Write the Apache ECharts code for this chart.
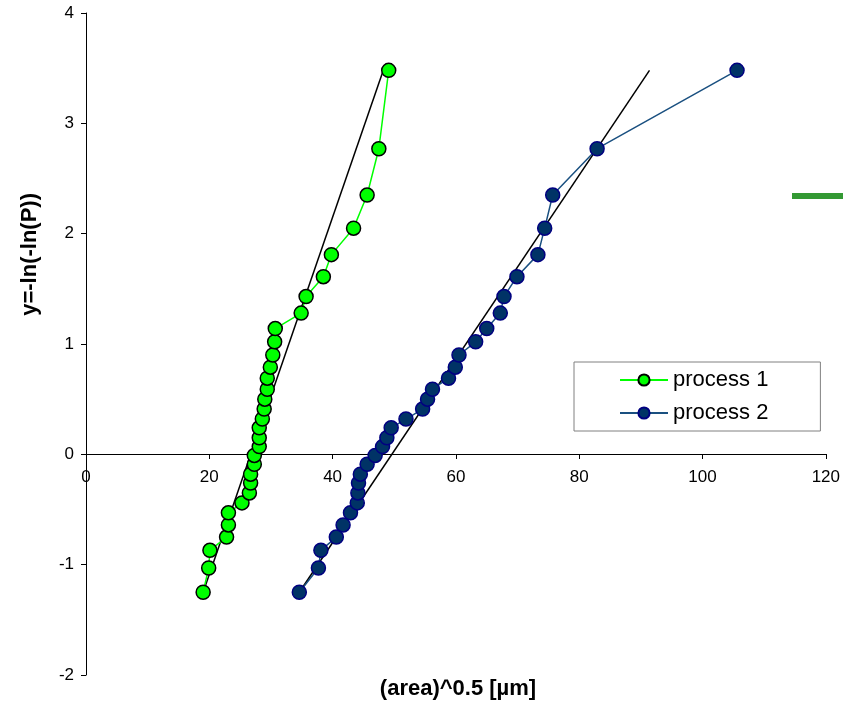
<!DOCTYPE html>
<html>
<head>
<meta charset="utf-8">
<script src="https://cdn.jsdelivr.net/npm/echarts@6/dist/echarts.min.js"></script>
<style>
  html, body { margin: 0; padding: 0; background: #fff; }
  #chart { width: 843px; height: 710px; }
</style>
</head>
<body>
<div id="chart"></div>
<script>
// values (Weibull plot, 32 samples per process)
const yPos = [-1.25, -1.03, -0.87, -0.75, -0.64, -0.53, -0.44, -0.35, -0.26, -0.18, -0.09, -0.01,
  0.07, 0.15, 0.24, 0.32, 0.41, 0.50, 0.59, 0.69, 0.79, 0.90, 1.02, 1.14,
  1.28, 1.43, 1.61, 1.81, 2.05, 2.35, 2.77, 3.48]

const process1X = [19.0, 19.9, 20.1, 22.8, 23.1, 23.1, 25.3, 26.5, 26.7, 26.7, 27.3, 27.3,
  28.1, 28.1, 28.1, 28.6, 28.9, 29.0, 29.4, 29.4, 29.9, 30.3, 30.6, 30.7,
  34.9, 35.7, 38.5, 39.8, 43.4, 45.6, 47.5, 49.1]

const process2X = [34.6, 37.7, 38.1, 40.6, 41.7, 42.9, 44.0, 44.1, 44.2, 44.5, 45.6, 46.9,
  48.1, 48.8, 49.5, 51.9, 54.6, 55.4, 56.2, 58.8, 59.9, 60.5, 63.2, 65.0,
  67.2, 67.8, 69.9, 73.3, 74.4, 75.7, 82.9, 105.6]

// straight fit lines (end points)
const fit1 = [[19.0, -1.25], [48.1, 3.46]]
const fit2 = [[34.6, -1.25], [91.4, 3.48]]

const seriesNames = ['process 1', 'process 2']

const font = 'Liberation Sans, Arial, sans-serif'

const pairs = (xs) => xs.map((x, i) => [x, yPos[i]])

// grid box, so the x axis can sit on y = 0
const gridTop = 13
const gridBottom = 35
const yMin = -2
const yMax = 4
const plotH = 710 - gridTop - gridBottom
const zeroOffset = -Math.round(plotH * (0 - yMin) / (yMax - yMin))

const chart = echarts.init(document.getElementById('chart'))

chart.setOption({
  backgroundColor: '#fff',
  animation: false,
  grid: { left: 86, right: 17, top: gridTop, bottom: gridBottom },
  xAxis: {
    type: 'value',
    min: 0,
    max: 120,
    interval: 20,
    offset: zeroOffset,
    axisLine: { onZero: false, lineStyle: { color: '#000', width: 1 } },
    axisTick: { show: true, length: 5, lineStyle: { color: '#000' } },
    axisLabel: { color: '#000', fontSize: 17, fontFamily: font, margin: 15 },
    splitLine: { show: false },
  },
  yAxis: {
    type: 'value',
    min: yMin,
    max: yMax,
    interval: 1,
    axisLine: { show: true, onZero: false, lineStyle: { color: '#000', width: 1 } },
    axisTick: { show: true, length: 5, lineStyle: { color: '#000' } },
    axisLabel: { color: '#000', fontSize: 17, fontFamily: font, margin: 12 },
    splitLine: { show: false },
  },
  legend: {
    data: seriesNames,
    orient: 'vertical',
    left: 574,
    top: 362,
    padding: [7, 52, 7, 45],
    itemWidth: 48,
    itemHeight: 14,
    itemGap: 11,
    borderColor: '#808080',
    borderWidth: 1,
    textStyle: { color: '#000', fontSize: 22, fontFamily: font },
  },
  graphic: [
    {
      type: 'text',
      left: 19,
      top: 193,
      rotation: Math.PI / 2,
      style: {
        text: 'y=-ln(-ln(P))',
        fill: '#000',
        font: 'bold 22px ' + font,
      },
    },
    {
      type: 'text',
      x: 458,
      y: 678,
      style: {
        text: '(area)^0.5 [µm]',
        fill: '#000',
        align: 'center',
        font: 'bold 22px ' + font,
      },
    },
    {
      type: 'rect',
      left: 792,
      top: 193,
      shape: { width: 51, height: 6 },
      style: { fill: '#339933' },
    },
  ],
  series: [
    {
      name: 'fit 1',
      type: 'line',
      data: fit1,
      symbol: 'none',
      silent: true,
      lineStyle: { color: '#000', width: 1.5 },
      z: 1,
    },
    {
      name: 'fit 2',
      type: 'line',
      data: fit2,
      symbol: 'none',
      silent: true,
      lineStyle: { color: '#000', width: 1.5 },
      z: 1,
    },
    {
      name: seriesNames[0],
      type: 'line',
      data: pairs(process1X),
      symbol: 'circle',
      symbolSize: 14,
      lineStyle: { color: '#00ff00', width: 1.5 },
      itemStyle: { color: '#00ff00', borderColor: '#000', borderWidth: 1.5 },
      z: 3,
    },
    {
      name: seriesNames[1],
      type: 'line',
      data: pairs(process2X),
      symbol: 'circle',
      symbolSize: 14,
      lineStyle: { color: '#1a5080', width: 1.5 },
      itemStyle: { color: '#003366', borderColor: '#000080', borderWidth: 1.5 },
      z: 3,
    },
  ],
})
</script>
</body>
</html>
